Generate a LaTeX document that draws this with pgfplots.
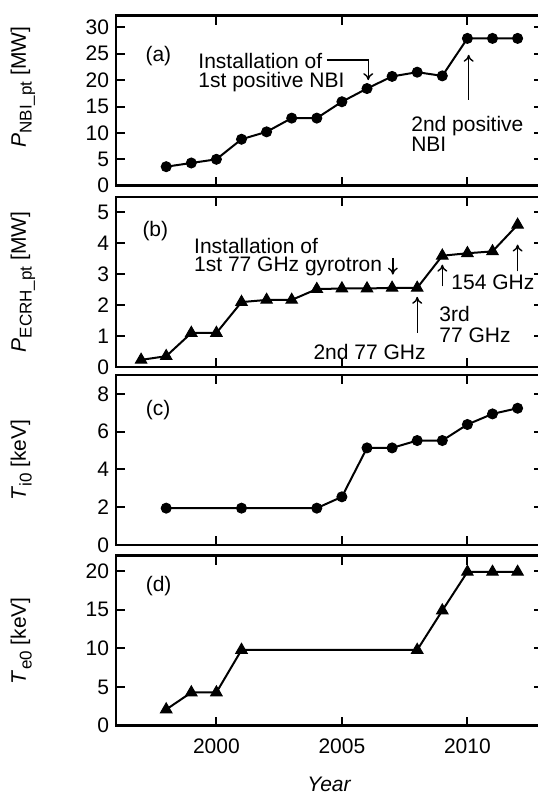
\documentclass[border=0pt]{standalone}
\usepackage{fontspec}
\setmainfont{Liberation Sans}
\usepackage{pgfplots}
\pgfplotsset{compat=1.18}
\usetikzlibrary{arrows.meta}

\newcommand{\fs}{\fontsize{10.5}{12}\selectfont}
\newcommand{\sub}[1]{\raisebox{-2.8pt}{\fontsize{8.5}{9}\selectfont #1}}

\pgfplotsset{
  panel/.style={
    width=213.35pt, height=85pt, scale only axis,
    xmin=1996, xmax=2013,
    xtick={2000,2005,2010},
    xticklabels={},
    axis line style={line width=1.3pt},
    major tick style={line width=1pt, black},
    major tick length=4.5pt,
    tick align=inside,
    ticklabel style={font=\fs},
    xticklabel style={yshift=-3pt},
    /pgf/number format/assume math mode=true,
    /pgf/number format/1000 sep={},
    label style={font=\fs},
    ylabel style={at={(axis description cs:-0.211,0.5)}, anchor=base},
    clip=false,
  },
  circ/.style={black, line width=1pt, mark=*, mark size=2.5pt,
    mark options={fill=black, line width=0.5pt}},
  tri/.style={black, line width=1pt, mark=triangle*, mark size=3.3pt,
    mark options={fill=black, line width=0.5pt}},
}
\tikzset{ann/.style={font=\fs, inner sep=0pt},
  arr/.style={line width=0.7pt, -{To[length=3.5pt,width=5pt]}}}

\begin{document}
\begin{tikzpicture}
% (a) NBI power
\begin{axis}[panel, name=a, at={(0,0)}, anchor=north west,
  ymin=0, ymax=32.2, ytick={0,5,...,30},
  ylabel={\textit{P}\sub{NBI\_pt} [MW]},
  ylabel style={at={(axis description cs:-0.211,0.58)}}]
\addplot[circ] coordinates {
  (1998,3.6) (1999,4.3) (2000,5.0) (2001,8.8) (2002,10.2) (2003,12.8)
  (2004,12.8) (2005,15.9) (2006,18.4) (2007,20.7) (2008,21.5) (2009,20.8)
  (2010,27.9) (2011,27.9) (2012,27.9)
};
\node[ann, anchor=base west] at (axis cs:1997.16,23.6) {(a)};
\node[ann, anchor=base west] at (axis cs:1999.27,22.25) {Installation of};
\node[ann, anchor=base west] at (axis cs:1999.27,18.66) {1st positive NBI};
\draw[arr] (axis cs:2004.4,23.8) -- (axis cs:2006.05,23.8) -- (axis cs:2006.05,20.0);
\node[ann, anchor=base west] at (axis cs:2007.75,10.27) {2nd positive};
\node[ann, anchor=base west] at (axis cs:2007.75,6.49) {NBI};
\draw[arr] (axis cs:2010.05,16.3) -- (axis cs:2010.05,24.8);
\end{axis}

% (b) ECRH power
\begin{axis}[panel, name=b, at={(0,-90.65pt)}, anchor=north west,
  ymin=0, ymax=5.5, ytick={0,1,...,5},
  ylabel={\textit{P}\sub{ECRH\_pt} [MW]}]
\addplot[tri] coordinates {
  (1997,0.23) (1998,0.35) (1999,1.1) (2000,1.1) (2001,2.1) (2002,2.17)
  (2003,2.17) (2004,2.52) (2005,2.54) (2006,2.54) (2007,2.56) (2008,2.56)
  (2009,3.6) (2010,3.68) (2011,3.74) (2012,4.6)
};
\node[ann, anchor=base west] at (axis cs:1997.04,4.23) {(b)};
\node[ann, anchor=base west] at (axis cs:1999.1,3.67) {Installation of};
\node[ann, anchor=base west] at (axis cs:1999.1,3.09) {1st 77 GHz gyrotron};
\draw[arr] (axis cs:2007.03,3.53) -- (axis cs:2007.03,2.99);
\node[ann, anchor=base east] at (axis cs:2008.35,0.24) {2nd 77 GHz};
\draw[arr] (axis cs:2008.0,1.1) -- (axis cs:2008.0,2.27);
\node[ann, anchor=base west] at (axis cs:2008.87,1.48) {3rd};
\node[ann, anchor=base west] at (axis cs:2008.87,0.78) {77 GHz};
\draw[arr] (axis cs:2009.0,2.61) -- (axis cs:2009.0,3.31);
\node[ann, anchor=base west] at (axis cs:2009.35,2.52) {154 GHz};
\draw[arr] (axis cs:2012.0,3.09) -- (axis cs:2012.0,3.96);
\end{axis}

% (c) ion temperature
\begin{axis}[panel, name=c, at={(0,-179.65pt)}, anchor=north west,
  ymin=0, ymax=9, ytick={0,2,...,8},
  ylabel={\textit{T}\sub{i0} [keV]}]
\addplot[circ] coordinates {
  (1998,1.95) (2001,1.95) (2004,1.95) (2005,2.55) (2006,5.14) (2007,5.14)
  (2008,5.53) (2009,5.53) (2010,6.38) (2011,6.94) (2012,7.24)
};
\node[ann, anchor=base west] at (axis cs:1997.17,6.84) {(c)};
\end{axis}

% (d) electron temperature
\begin{axis}[panel, name=d, at={(0,-270pt)}, anchor=north west,
  ymin=0, ymax=22, ytick={0,5,...,20},
  xticklabels={2000,2005,2010},
  xlabel={\textit{Year}},
  xlabel style={at={(axis description cs:0.5,-0.385)}, anchor=base},
  ylabel={\textit{T}\sub{e0} [keV]}]
\addplot[tri] coordinates {
  (1998,2.1) (1999,4.3) (2000,4.3) (2001,9.8) (2008,9.8) (2009,14.9)
  (2010,19.9) (2011,19.9) (2012,19.9)
};
\node[ann, anchor=base west] at (axis cs:1997.17,17.4) {(d)};
\end{axis}

\pgfresetboundingbox
\path[use as bounding box] ([xshift=-58pt,yshift=7.85pt]a.north west)
  rectangle ([xshift=210.5pt,yshift=-35.15pt]d.south west);
\end{tikzpicture}
\end{document}
